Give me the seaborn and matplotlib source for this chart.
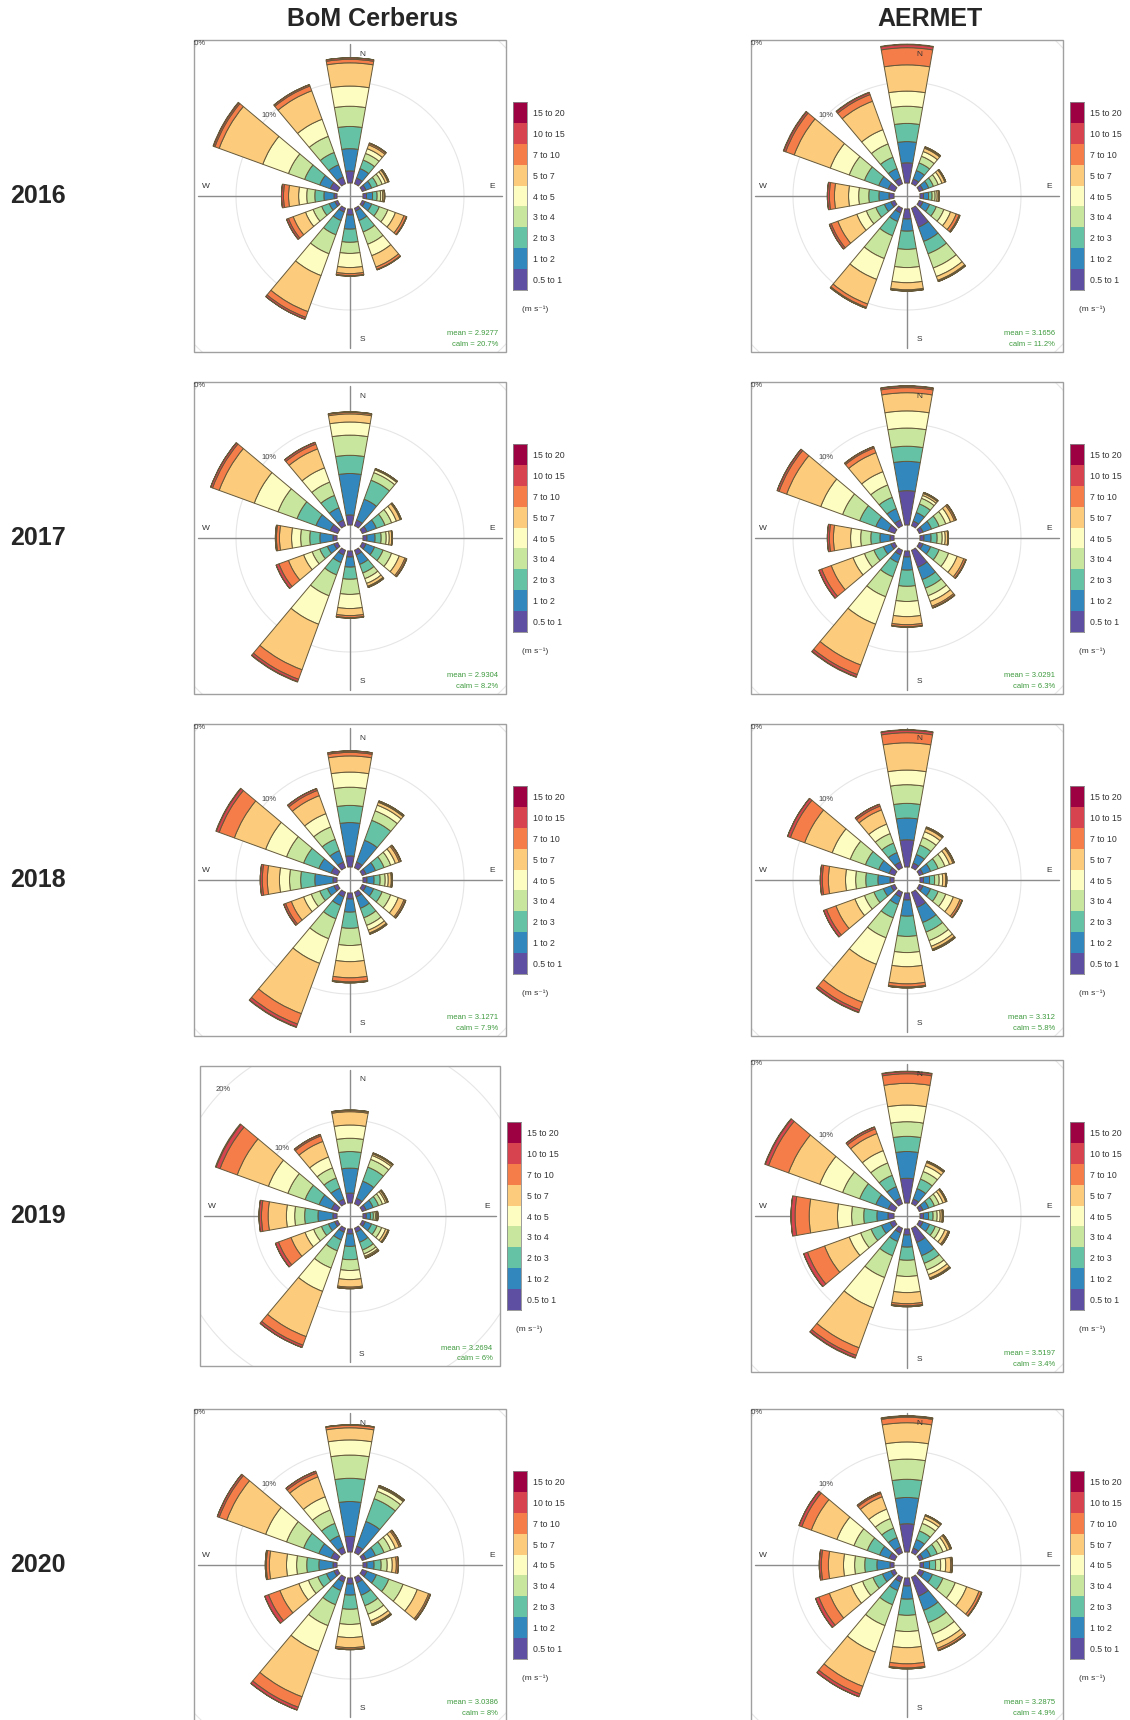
import numpy as np
import pandas as pd
import matplotlib.pyplot as plt
import matplotlib.patches as mpatches
from matplotlib.colors import ListedColormap
import seaborn as sns

# wind direction sectors (deg from north) and speed classes
directions = [0, 30, 60, 90, 120, 150, 180, 210, 240, 270, 300, 330]
speed_bins = ["0.5 to 1", "1 to 2", "2 to 3", "3 to 4", "4 to 5",
              "5 to 7", "7 to 10", "10 to 15", "15 to 20"]
bin_colors = ["#5E4FA2", "#3288BD", "#66C2A5", "#C9E69E", "#FDFDC2",
              "#FCCB7C", "#F57D4A", "#D7434F", "#9E0142"]

row_labels = ["2016", "2017", "2018", "2019", "2020"]
col_titles = ["BoM Cerberus", "AERMET"]

# frequency (%) per sector (rows) and speed class (columns)
bom_2016 = [
    [1.2, 2.2, 2.2, 2.0, 2.0, 2.3, 0.35, 0.15, 0],
    [0.6, 1.0, 0.9, 0.7, 0.5, 0.4, 0.15, 0.05, 0],
    [0.4, 0.6, 0.6, 0.5, 0.35, 0.25, 0.1, 0.02, 0],
    [0.35, 0.6, 0.45, 0.35, 0.2, 0.15, 0.05, 0, 0],
    [0.3, 0.7, 0.8, 0.9, 0.8, 0.9, 0.25, 0.05, 0],
    [0.3, 1.0, 1.2, 1.3, 1.2, 1.2, 0.25, 0.05, 0],
    [0.6, 1.4, 1.3, 1.1, 1.4, 0.6, 0.2, 0.05, 0],
    [0.4, 0.9, 1.5, 2.0, 2.3, 3.8, 0.6, 0.2, 0],
    [0.3, 0.6, 0.8, 0.9, 0.8, 1.3, 0.5, 0.2, 0],
    [0.3, 1.0, 0.9, 0.8, 0.8, 1.0, 0.5, 0.2, 0],
    [0.8, 1.1, 1.6, 1.7, 2.7, 4.6, 0.45, 0.15, 0.05],
    [0.7, 1.3, 1.3, 1.7, 1.8, 3.0, 0.5, 0.15, 0],
]
aermet_2016 = [
    [2.0, 2.1, 1.8, 1.7, 1.5, 2.6, 1.7, 0.3, 0.05],
    [0.5, 0.9, 0.8, 0.7, 0.5, 0.35, 0.1, 0.05, 0],
    [0.4, 0.6, 0.5, 0.5, 0.4, 0.3, 0.1, 0, 0],
    [0.35, 0.5, 0.35, 0.3, 0.2, 0.15, 0.05, 0, 0],
    [0.4, 0.7, 0.7, 0.8, 0.7, 0.6, 0.3, 0.1, 0],
    [2.0, 1.5, 1.3, 1.5, 0.9, 0.4, 0.1, 0.03, 0],
    [1.0, 1.2, 1.8, 1.8, 1.5, 0.7, 0.1, 0.03, 0],
    [0.5, 0.9, 1.5, 2.4, 2.2, 2.6, 0.35, 0.1, 0],
    [0.4, 0.7, 0.9, 1.0, 1.0, 2.0, 0.7, 0.2, 0],
    [0.5, 1.0, 1.0, 1.0, 1.0, 1.4, 0.5, 0.2, 0],
    [0.7, 1.0, 1.5, 1.6, 2.0, 3.8, 0.9, 0.2, 0.05],
    [0.6, 1.0, 1.2, 1.4, 1.5, 3.0, 0.7, 0.2, 0.05],
]
bom_2017 = [
    [1.0, 4.1, 1.8, 2.0, 1.3, 0.8, 0.15, 0.05, 0],
    [0.6, 2.2, 2.0, 0.8, 0.3, 0.1, 0.02, 0, 0],
    [0.5, 1.0, 0.9, 0.7, 0.5, 0.4, 0.1, 0.02, 0],
    [0.4, 0.8, 0.6, 0.5, 0.3, 0.25, 0.05, 0, 0],
    [0.4, 0.9, 0.9, 0.9, 0.8, 0.6, 0.15, 0.05, 0],
    [0.5, 1.0, 0.9, 0.6, 0.5, 0.3, 0.1, 0.03, 0],
    [0.6, 1.0, 1.2, 1.5, 1.4, 0.7, 0.2, 0.05, 0],
    [0.5, 0.8, 1.3, 2.2, 3.0, 4.8, 1.0, 0.25, 0.05],
    [0.4, 0.7, 0.8, 0.8, 0.9, 1.6, 1.0, 0.3, 0],
    [0.4, 1.3, 1.0, 0.9, 0.9, 1.2, 0.3, 0.1, 0],
    [0.8, 1.5, 2.0, 2.0, 2.5, 3.7, 0.7, 0.2, 0],
    [0.6, 1.3, 1.3, 1.4, 1.5, 2.0, 0.5, 0.2, 0],
]
aermet_2017 = [
    [3.4, 2.9, 1.5, 1.8, 1.7, 1.8, 0.5, 0.15, 0.05],
    [0.5, 0.9, 0.9, 0.6, 0.3, 0.2, 0.1, 0.02, 0],
    [0.4, 0.9, 0.8, 0.7, 0.5, 0.4, 0.15, 0.05, 0],
    [0.4, 0.7, 0.6, 0.5, 0.3, 0.25, 0.05, 0, 0],
    [0.4, 0.8, 0.9, 1.0, 0.9, 0.7, 0.2, 0.05, 0],
    [1.8, 1.3, 0.9, 0.8, 0.6, 0.5, 0.15, 0.05, 0],
    [0.6, 1.3, 1.6, 1.5, 1.5, 0.8, 0.2, 0.05, 0],
    [0.5, 0.8, 1.5, 2.1, 2.9, 4.3, 1.0, 0.25, 0.05],
    [0.4, 0.8, 1.0, 1.0, 1.2, 2.3, 1.0, 0.3, 0],
    [0.4, 1.0, 0.9, 1.0, 1.0, 1.7, 0.4, 0.2, 0],
    [0.7, 1.3, 1.7, 1.8, 2.3, 3.6, 0.8, 0.2, 0],
    [0.6, 1.2, 1.2, 1.3, 1.4, 2.0, 0.5, 0.15, 0],
]
bom_2018 = [
    [1.1, 3.3, 1.7, 1.8, 1.5, 1.6, 0.35, 0.15, 0],
    [0.6, 2.3, 2.1, 1.0, 0.6, 0.3, 0.1, 0.05, 0],
    [0.4, 1.0, 0.9, 0.7, 0.5, 0.4, 0.15, 0.05, 0],
    [0.4, 0.7, 0.6, 0.5, 0.3, 0.3, 0.1, 0, 0],
    [0.4, 0.8, 0.9, 0.9, 0.8, 0.6, 0.15, 0.05, 0],
    [0.5, 1.2, 1.0, 0.8, 0.5, 0.3, 0.1, 0.03, 0],
    [0.6, 1.3, 1.6, 1.7, 1.6, 1.6, 0.4, 0.1, 0],
    [0.5, 0.9, 1.4, 2.1, 2.6, 5.3, 1.1, 0.3, 0.05],
    [0.4, 0.7, 0.8, 0.9, 0.8, 1.3, 0.6, 0.2, 0],
    [0.4, 1.8, 1.4, 1.1, 1.0, 1.2, 0.5, 0.2, 0],
    [0.7, 1.3, 1.6, 1.8, 2.2, 3.3, 1.6, 0.3, 0.05],
    [0.6, 1.2, 1.2, 1.3, 1.4, 1.9, 0.55, 0.2, 0],
]
aermet_2018 = [
    [2.7, 2.15, 1.45, 1.85, 1.45, 2.7, 1.0, 0.25, 0.05],
    [0.5, 0.9, 1.0, 0.8, 0.6, 0.35, 0.1, 0.05, 0],
    [0.4, 0.8, 0.8, 0.7, 0.5, 0.35, 0.12, 0.03, 0],
    [0.35, 0.6, 0.5, 0.45, 0.35, 0.3, 0.1, 0, 0],
    [0.4, 0.8, 0.8, 0.8, 0.8, 0.7, 0.2, 0.05, 0],
    [1.6, 1.6, 1.0, 0.9, 0.6, 0.3, 0.1, 0.05, 0],
    [0.7, 1.6, 2.0, 1.6, 1.4, 1.7, 0.3, 0.1, 0],
    [0.5, 0.8, 1.4, 2.1, 2.8, 4.0, 0.8, 0.25, 0.05],
    [0.4, 0.8, 1.0, 1.0, 1.0, 2.0, 1.0, 0.3, 0],
    [0.4, 1.2, 1.2, 1.0, 1.0, 1.7, 0.6, 0.2, 0],
    [0.6, 1.1, 1.4, 1.6, 1.9, 2.9, 1.5, 0.3, 0],
    [0.6, 1.0, 1.0, 1.0, 1.0, 1.5, 0.4, 0.2, 0],
]
bom_2019 = [
    [1.2, 3.0, 2.0, 1.6, 1.6, 1.6, 0.15, 0.05, 0],
    [0.7, 2.2, 1.8, 1.0, 0.5, 0.2, 0.1, 0.03, 0],
    [0.5, 0.9, 0.7, 0.5, 0.4, 0.2, 0.1, 0.03, 0],
    [0.4, 0.5, 0.35, 0.25, 0.15, 0.1, 0.05, 0, 0],
    [0.4, 0.8, 0.7, 0.6, 0.5, 0.3, 0.1, 0.03, 0],
    [0.5, 1.3, 1.0, 0.5, 0.3, 0.15, 0.08, 0.02, 0],
    [0.6, 1.5, 1.6, 1.3, 1.1, 0.9, 0.15, 0.05, 0],
    [0.5, 1.0, 1.4, 2.2, 3.0, 5.8, 1.1, 0.3, 0],
    [0.4, 0.8, 0.9, 1.0, 1.1, 1.8, 1.6, 0.4, 0],
    [0.5, 1.8, 1.6, 1.2, 1.0, 2.2, 0.8, 0.3, 0],
    [0.8, 1.6, 1.8, 2.2, 2.5, 4.0, 2.2, 0.5, 0.1],
    [0.6, 1.4, 1.3, 1.3, 1.4, 2.0, 0.7, 0.2, 0],
]
aermet_2019 = [
    [2.45, 2.65, 1.5, 1.45, 1.65, 2.15, 0.95, 0.2, 0.05],
    [0.5, 1.1, 1.0, 0.8, 0.6, 0.35, 0.1, 0.05, 0],
    [0.4, 0.6, 0.6, 0.5, 0.4, 0.3, 0.1, 0.02, 0],
    [0.35, 0.5, 0.45, 0.4, 0.3, 0.2, 0.1, 0, 0],
    [0.4, 0.7, 0.6, 0.5, 0.5, 0.35, 0.12, 0.03, 0],
    [1.5, 1.4, 0.8, 0.7, 0.5, 0.35, 0.1, 0.05, 0],
    [0.6, 1.2, 1.3, 1.6, 1.6, 1.1, 0.2, 0.1, 0],
    [0.5, 0.9, 1.5, 2.3, 3.2, 4.2, 0.8, 0.25, 0.05],
    [0.5, 0.9, 1.1, 1.1, 1.2, 2.6, 1.8, 0.4, 0],
    [0.6, 1.1, 1.3, 1.2, 1.4, 2.8, 1.4, 0.4, 0],
    [0.7, 1.3, 1.7, 1.8, 2.4, 3.3, 2.1, 0.35, 0.05],
    [0.6, 1.2, 1.2, 1.3, 1.3, 1.8, 0.5, 0.2, 0],
]
bom_2020 = [
    [1.55, 3.45, 2.3, 2.3, 1.5, 1.2, 0.25, 0.05, 0],
    [0.7, 2.6, 2.4, 0.8, 0.4, 0.1, 0.07, 0.03, 0],
    [0.4, 1.0, 0.9, 0.7, 0.5, 0.4, 0.15, 0.05, 0],
    [0.4, 0.7, 0.7, 0.6, 0.5, 0.4, 0.2, 0, 0],
    [0.5, 1.0, 1.3, 1.5, 1.5, 1.2, 0.15, 0.05, 0],
    [0.6, 1.3, 1.1, 0.9, 0.7, 0.35, 0.1, 0.05, 0],
    [0.6, 1.1, 1.4, 1.5, 1.3, 1.0, 0.15, 0.05, 0],
    [0.5, 0.9, 1.5, 2.2, 2.7, 4.8, 1.1, 0.3, 0],
    [0.4, 0.8, 0.9, 1.0, 1.0, 2.0, 1.2, 0.4, 0],
    [0.4, 1.4, 1.2, 1.0, 1.0, 1.7, 0.3, 0.1, 0],
    [0.7, 1.3, 1.6, 1.8, 2.2, 4.1, 0.8, 0.2, 0],
    [0.6, 1.2, 1.3, 1.4, 1.4, 2.1, 0.4, 0.2, 0],
]
aermet_2020 = [
    [2.8, 2.6, 1.8, 2.0, 1.7, 1.9, 0.55, 0.1, 0.05],
    [0.5, 0.9, 0.9, 0.8, 0.5, 0.3, 0.08, 0.02, 0],
    [0.4, 0.8, 0.7, 0.6, 0.45, 0.3, 0.12, 0.03, 0],
    [0.35, 0.6, 0.6, 0.5, 0.5, 0.5, 0.15, 0, 0],
    [0.5, 0.9, 1.1, 1.3, 1.2, 1.3, 0.25, 0.05, 0],
    [2.0, 1.5, 1.3, 1.2, 1.0, 0.5, 0.2, 0.05, 0],
    [0.8, 1.3, 1.6, 1.6, 1.6, 1.6, 0.4, 0.1, 0],
    [0.5, 0.9, 1.5, 2.2, 2.8, 3.6, 0.8, 0.3, 0],
    [0.4, 0.9, 1.0, 1.1, 1.2, 2.3, 1.1, 0.35, 0],
    [0.4, 1.3, 1.2, 1.0, 1.1, 1.5, 0.7, 0.2, 0],
    [0.6, 1.0, 1.3, 1.4, 1.8, 2.7, 1.0, 0.3, 0],
    [0.6, 1.0, 1.0, 1.0, 1.0, 1.3, 0.35, 0.15, 0],
]

bom_means = ["2.9277", "2.9304", "3.1271", "3.2694", "3.0386"]
bom_calms = ["20.7%", "8.2%", "7.9%", "6%", "8%"]
aermet_means = ["3.1656", "3.0291", "3.312", "3.5197", "3.2875"]
aermet_calms = ["11.2%", "6.3%", "5.8%", "3.4%", "4.9%"]

bom_roses = [bom_2016, bom_2017, bom_2018, bom_2019, bom_2020]
aermet_roses = [aermet_2016, aermet_2017, aermet_2018, aermet_2019, aermet_2020]

sns.set_style("white")
plt.rcParams["font.family"] = ["Liberation Sans", "DejaVu Sans"]

W, H = 1130, 1720
fig = plt.figure(figsize=(W / 100, H / 100), dpi=100)


def px_axes(x0, y0, w, h, **kw):
    return fig.add_axes([x0 / W, 1 - (y0 + h) / H, w / W, h / H], **kw)


def wind_rose(ax, freq, px_per_pct, half, mean, calm):
    hole = 13 / px_per_pct
    rmax = half / px_per_pct
    df = pd.DataFrame(freq, index=directions, columns=speed_bins)
    theta = np.deg2rad(df.index.to_numpy(dtype=float))

    ax.set_theta_zero_location("N")
    ax.set_theta_direction(-1)
    ax.set_ylim(0, rmax)
    ax.grid(False)
    ax.set_xticks([])
    ax.set_yticks([])
    ax.spines["polar"].set_visible(False)

    box = mpatches.Rectangle((0, 0), 1, 1, transform=ax.transAxes, fill=False,
                             ec="#a0a0a0", lw=1.0, clip_on=False, zorder=5)
    ax.add_patch(box)

    # percentage rings
    circ = np.linspace(0, 2 * np.pi, 361)
    for pct in (10, 20):
        ln, = ax.plot(circ, np.full_like(circ, hole + pct), color="#e6e6e6", lw=0.8, zorder=1)
        ln.set_clip_path(box)
        t = ax.text(np.deg2rad(315), hole + pct, f"{pct}%", fontsize=5.5, color="#444444",
                    ha="center", va="center", zorder=6, clip_on=True)
        t.set_clip_path(box)

    # cross lines
    for ang in (0, 90, 180, 270):
        ax.plot([np.deg2rad(ang)] * 2, [0, rmax * 0.975], color="#8c8c8c", lw=1.0, zorder=1)

    bottom = np.full(len(theta), hole)
    for col, color in zip(speed_bins, bin_colors):
        vals = df[col].to_numpy()
        bars = ax.bar(theta, vals, width=np.deg2rad(20), bottom=bottom, color=color,
                      edgecolor="#65593a", linewidth=0.7, zorder=3)
        for b in bars:
            b.set_clip_path(box)
        bottom = bottom + vals

    kw = dict(transform=ax.transAxes, fontsize=6, color="#333333", zorder=6)
    ax.text(0.53, 0.955, "N", ha="left", va="center", **kw)
    ax.text(0.53, 0.04, "S", ha="left", va="center", **kw)
    ax.text(0.025, 0.53, "W", ha="left", va="center", **kw)
    ax.text(0.965, 0.53, "E", ha="right", va="center", **kw)
    ax.text(0.975, 0.06, f"mean = {mean}", transform=ax.transAxes, ha="right", va="center",
            fontsize=5.5, color="#3f9a3f", zorder=6)
    ax.text(0.975, 0.025, f"calm = {calm}", transform=ax.transAxes, ha="right", va="center",
            fontsize=5.5, color="#3f9a3f", zorder=6)


def speed_legend(x0, cy):
    lax = px_axes(x0, cy - 94, 14, 188)
    grid = np.arange(len(speed_bins))[::-1].reshape(-1, 1)
    sns.heatmap(grid, cmap=ListedColormap(bin_colors), cbar=False, ax=lax,
                xticklabels=False, yticklabels=speed_bins[::-1])
    lax.yaxis.tick_right()
    lax.tick_params(axis="y", length=0, pad=4, labelsize=6.3, labelcolor="#333333")
    plt.setp(lax.get_yticklabels(), rotation=0)
    for s in lax.spines.values():
        s.set_visible(True)
        s.set_color("#8a8a8a")
        s.set_linewidth(0.6)
    fig.text((x0 + 22) / W, 1 - (cy + 113) / H, "(m s⁻¹)", fontsize=6, color="#333333",
             ha="center", va="center", family=["Liberation Sans", "DejaVu Sans"])


col_cx = [350, 907]
row_cy = [196, 538, 880, 1216, 1565]

for i, year in enumerate(row_labels):
    fig.text(38 / W, 1 - row_cy[i] / H, year, fontsize=18, fontweight="bold",
             ha="center", va="center")
    for j, (roses, means, calms) in enumerate([(bom_roses, bom_means, bom_calms),
                                               (aermet_roses, aermet_means, aermet_calms)]):
        small = (j == 0 and year == "2019")
        half = 150 if small else 156
        ppp = 8.3 if small else 10.1
        cx, cy = col_cx[j], row_cy[i]
        ax = px_axes(cx - half, cy - half, 2 * half, 2 * half, projection="polar")
        wind_rose(ax, roses[i], ppp, half, means[i], calms[i])
        speed_legend(cx + half + 7, cy)

for j, title in enumerate(col_titles):
    fig.text(col_cx[j] / W + 0.02, 1 - 19 / H, title, fontsize=18,
             fontweight="bold", ha="center", va="center")

fig.savefig("out.png", dpi=100)
